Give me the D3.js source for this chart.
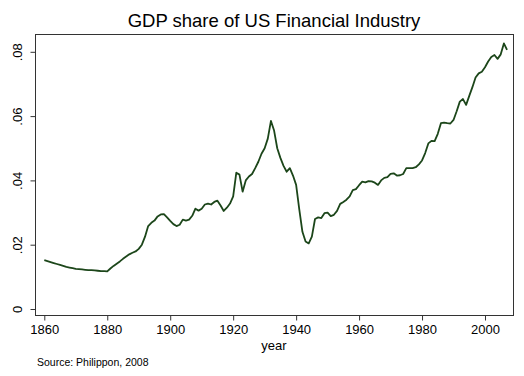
<html>
<title>GDP share of US Financial Industry</title>
<script src="https://d3js.org/d3.v7.min.js"></script>
<style>
  body { margin: 0; background: white; }
  text { font-family: "Liberation Sans", Arial, sans-serif; fill: #000; }
</style>
<body>
<svg width="524" height="376"></svg>
<script>
// annual values, 1860-2007
var startYear = 1860;
var share = [
  0.0152, 0.0149, 0.0146, 0.0143, 0.0140, 0.0137, 0.0134, 0.0131, 0.0129, 0.0127,
  0.0125, 0.0124, 0.0123, 0.0122, 0.0121, 0.0121, 0.0120, 0.0119, 0.0118, 0.0118,
  0.0117, 0.0126, 0.0134, 0.0141, 0.0148, 0.0156, 0.0163, 0.0170, 0.0175, 0.0179,
  0.0187, 0.0200, 0.0225, 0.0258, 0.0268, 0.0275, 0.0288, 0.0294, 0.0295, 0.0285,
  0.0274, 0.0264, 0.0258, 0.0262, 0.0278, 0.0275, 0.0278, 0.0290, 0.0312, 0.0306,
  0.0312, 0.0325, 0.0328, 0.0325, 0.0333, 0.0337, 0.0322, 0.0305, 0.0315, 0.0328,
  0.0350, 0.0424, 0.0418, 0.0365, 0.0400, 0.0412, 0.0420, 0.0438, 0.0458, 0.0483,
  0.0500, 0.0530, 0.0585, 0.0555, 0.0500, 0.0470, 0.0445, 0.0427, 0.0438, 0.0415,
  0.0386, 0.0310, 0.0240, 0.0210, 0.0204, 0.0225, 0.0280, 0.0285, 0.0283, 0.0298,
  0.0300, 0.0289, 0.0293, 0.0305, 0.0327, 0.0333, 0.0340, 0.0350, 0.0370, 0.0373,
  0.0385, 0.0396, 0.0394, 0.0398, 0.0397, 0.0393, 0.0386, 0.0400, 0.0408, 0.0410,
  0.0420, 0.0422, 0.0415, 0.0416, 0.0420, 0.0438, 0.0438, 0.0438, 0.0441, 0.0450,
  0.0462, 0.0485, 0.0515, 0.0523, 0.0522, 0.0545, 0.0578, 0.0580, 0.0578, 0.0577,
  0.0588, 0.0615, 0.0645, 0.0653, 0.0635, 0.0663, 0.0690, 0.0720, 0.0733, 0.0738,
  0.0752, 0.0770, 0.0784, 0.0790, 0.0778, 0.0792, 0.0826, 0.0806
];
var xTicks = [1860, 1880, 1900, 1920, 1940, 1960, 1980, 2000];
var yTicks = [0, 0.02, 0.04, 0.06, 0.08];
var yTickLabels = ["0", ".02", ".04", ".06", ".08"];

var data = share.map(function(v, i) { return {year: startYear + i, value: v}; });

var svg = d3.select("svg");
var frame = {left: 35.5, right: 513.5, top: 34.5, bottom: 315.5};

var xs = d3.scaleLinear().domain([1860, 2000]).range([44.3, 485]);
var ys = d3.scaleLinear().domain([0, 0.08]).range([309, 51.8]);

// plot frame
svg.append("rect")
  .attr("x", frame.left).attr("y", frame.top)
  .attr("width", frame.right - frame.left)
  .attr("height", frame.bottom - frame.top)
  .attr("fill", "white")
  .attr("stroke", "#333")
  .attr("stroke-width", 1);

// x axis
var xAxis = svg.append("g")
  .attr("transform", "translate(0," + frame.bottom + ")")
  .call(d3.axisBottom(xs).tickValues(xTicks).tickFormat(d3.format("d"))
        .tickSize(5).tickPadding(4));
xAxis.select(".domain").remove();
xAxis.selectAll("line").attr("stroke", "#333");
xAxis.selectAll("text")
  .style("font-family", "Liberation Sans, Arial, sans-serif")
  .style("font-size", "13px");

// y axis
var yAxis = svg.append("g")
  .attr("transform", "translate(" + frame.left + ",0)")
  .call(d3.axisLeft(ys).tickValues(yTicks)
        .tickFormat(function(d, i) { return yTickLabels[i]; })
        .tickSize(5));
yAxis.select(".domain").remove();
yAxis.selectAll("line").attr("stroke", "#333");
yAxis.selectAll("text")
  .attr("x", null).attr("dy", null)
  .attr("transform", "translate(-13.5,0) rotate(-90)")
  .attr("text-anchor", "middle")
  .style("font-family", "Liberation Sans, Arial, sans-serif")
  .style("font-size", "13px");

// the series
svg.append("path")
  .datum(data)
  .attr("d", d3.line()
    .x(function(d) { return xs(d.year); })
    .y(function(d) { return ys(d.value); }))
  .attr("fill", "none")
  .attr("stroke", "#1c461a")
  .attr("stroke-width", 1.8)
  .attr("stroke-linejoin", "round");

svg.append("text")
  .attr("x", 274).attr("y", 27)
  .attr("text-anchor", "middle")
  .style("font-size", "18.5px")
  .text("GDP share of US Financial Industry");

svg.append("text")
  .attr("x", 274).attr("y", 350)
  .attr("text-anchor", "middle")
  .style("font-size", "13px")
  .text("year");

svg.append("text")
  .attr("x", 37).attr("y", 366)
  .style("font-size", "10.5px")
  .text("Source: Philippon, 2008");
</script>
</body>
</html>
